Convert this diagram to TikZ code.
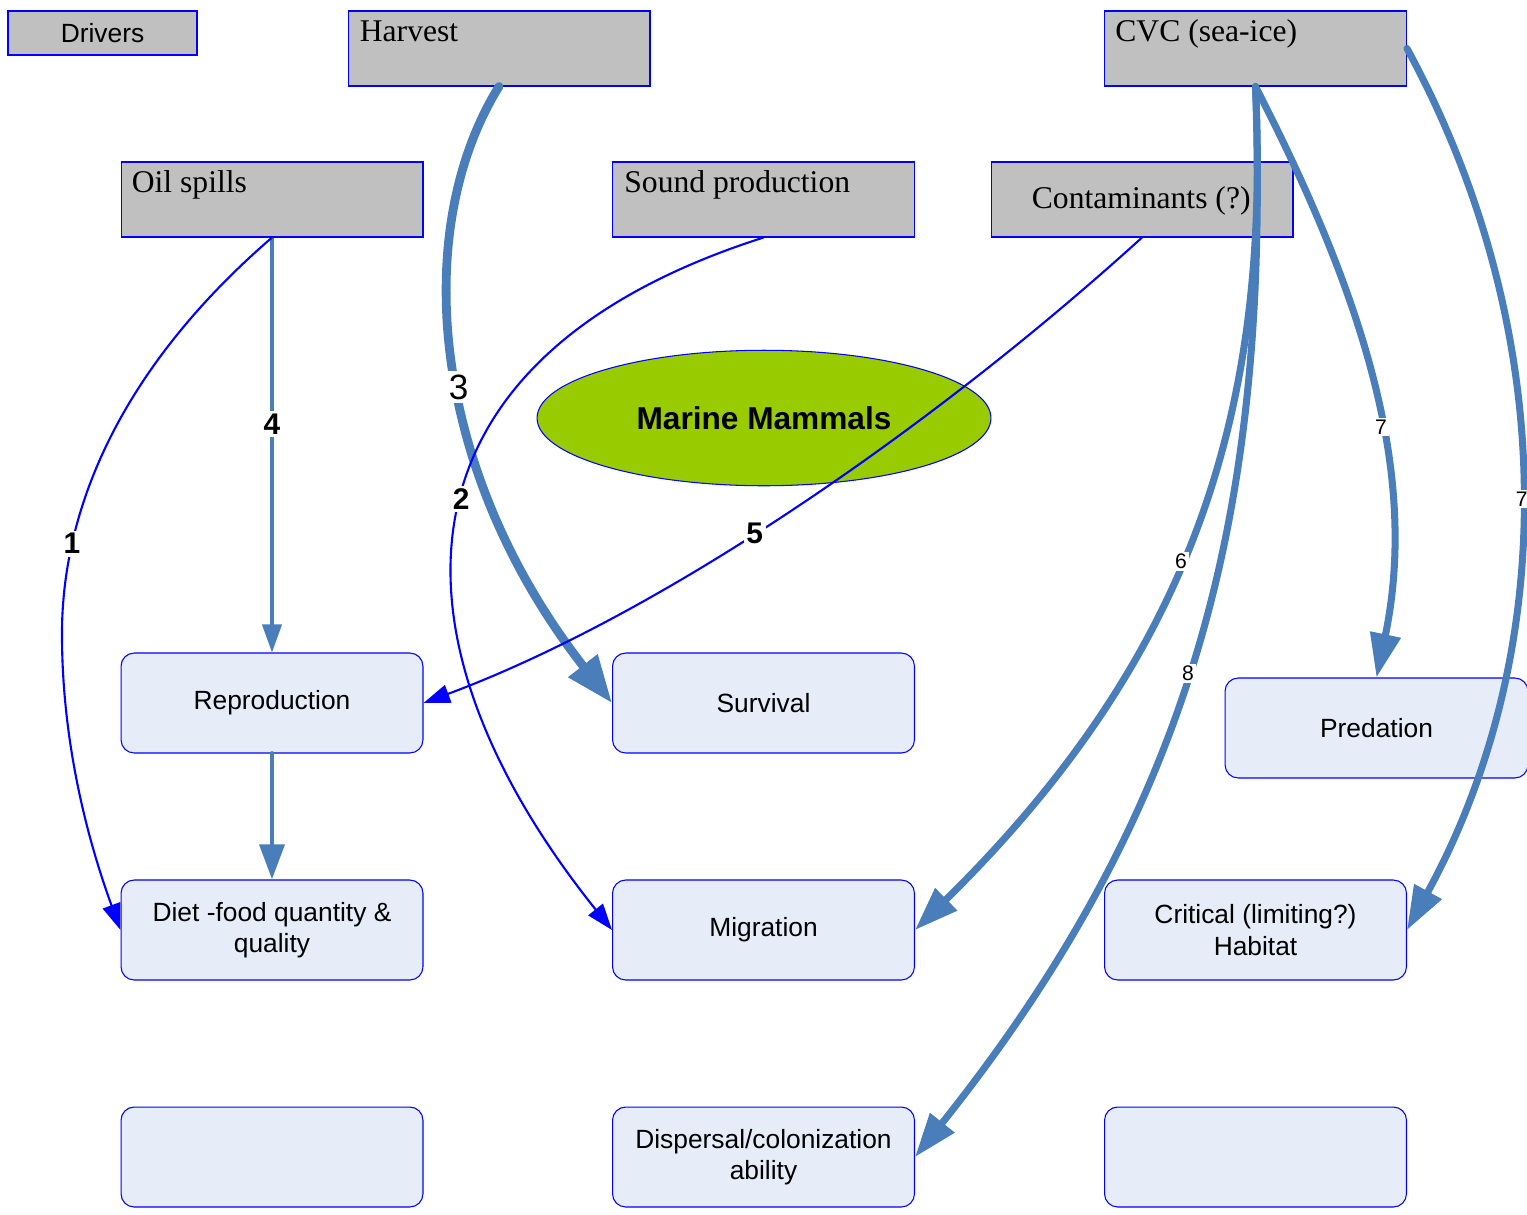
\documentclass[tikz,border=0pt]{standalone}
\usepackage{fontspec}
\setmainfont{Liberation Serif}
\newfontfamily\arialfont{Liberation Sans}
\usetikzlibrary{arrows.meta,shapes.geometric}
\definecolor{steel}{HTML}{4A7EBB}
\definecolor{driverfill}{HTML}{C0C0C0}
\definecolor{effectfill}{HTML}{E6ECF8}
\definecolor{mammalfill}{HTML}{99CC00}

\begin{document}
\begin{tikzpicture}[x=0.02cm,y=-0.02cm,
  driverbox/.style={draw=blue, line width=0.6pt, fill=driverfill,
    minimum width=6.04cm, minimum height=1.5cm, inner sep=0pt},
  drivertext/.style={font=\fontsize{18}{21}\selectfont, anchor=base west, inner sep=0pt},
  effectbox/.style={draw=blue, line width=0.6pt, fill=effectfill, rounded corners=7.5pt,
    minimum width=6.04cm, minimum height=2cm, align=center, inner sep=0pt,
    font=\arialfont\fontsize{15}{18}\selectfont},
  thinlink/.style={draw=blue, line width=1.2pt, -{Triangle[length=15pt,width=10.5pt]}},
  thicklink/.style={draw=steel, line width=4pt, line cap=round, -{Triangle[length=25pt,width=17pt]}},
  harvestlink/.style={draw=steel, line width=5pt, line cap=round, -{Triangle[length=27pt,width=20pt]}},
  oillink/.style={draw=steel, line width=1.8pt, -{Triangle[length=16pt,width=11pt]}},
  reprolink/.style={draw=steel, line width=2.8pt, line cap=round, -{Triangle[length=20pt,width=14pt]}},
  boldnum/.style={fill=white, inner sep=1.5pt, font=\arialfont\bfseries\fontsize{17}{17}\selectfont},
  largenum/.style={fill=white, inner sep=2pt, font=\arialfont\fontsize{20}{20}\selectfont},
  smallnum/.style={fill=white, inner sep=1pt, font=\arialfont\fontsize{12}{12}\selectfont}]

\useasboundingbox (0,0) rectangle (1527,1214);

% drivers (grey boxes)
\node[driverbox, minimum width=3.78cm, minimum height=0.88cm,
      font=\arialfont\fontsize{15}{18}\selectfont] (drivers) at (102.5,33) {Drivers};
\node[driverbox] (harvest) at (499,48.5) {};
\node[drivertext] (harvest-t) at ([shift={(12,31)}]harvest.north west) {Harvest};
\node[driverbox] (cvc) at (1255.5,48.5) {};
\node[drivertext] (cvc-t) at ([shift={(11,31)}]cvc.north west) {CVC (sea-ice)};
\node[driverbox] (oil) at (272,199.5) {};
\node[drivertext] (oil-t) at ([shift={(11,31)}]oil.north west) {Oil spills};
\node[driverbox] (sound) at (763.5,199.5) {};
\node[drivertext] (sound-t) at ([shift={(12,31)}]sound.north west) {Sound production};
\node[driverbox] (cont) at (1142,199.5) {};
\node[drivertext] (cont-t) at ([shift={(41,47)}]cont.north west) {Contaminants (?)};

% focal group
\node[ellipse, draw=blue, line width=0.6pt, fill=mammalfill, inner sep=0pt,
      minimum width=9.08cm, minimum height=2.71cm,
      font=\arialfont\bfseries\fontsize{18}{21}\selectfont] (mm) at (764,418) {Marine Mammals};

% effects (rounded boxes)
\node[effectbox] (repro) at (272,703) {Reproduction};
\node[effectbox] (surv) at (763.5,703) {Survival};
\node[effectbox, minimum width=6.06cm] (pred) at (1376.5,728) {Predation};
\node[effectbox] (diet) at (272,930) {Diet -food quantity \&\\quality};
\node[effectbox] (migr) at (763.5,930) {Migration};
\node[effectbox] (crit) at (1255.5,930) {Critical (limiting?)\\Habitat};
\node[effectbox] (blankA) at (272,1157) {};
\node[effectbox] (disp) at (763.5,1157) {Dispersal/colonization\\ability};
\node[effectbox] (blankB) at (1255.5,1157) {};

% heavy links
\draw[harvestlink] (harvest.south) .. controls (410,230) and (430,470) .. (surv.west)
  node[largenum, pos=0.54] (n3) {3};
\draw[thicklink] (cvc.south) .. controls (1270,400) and (1200,650) .. (migr.east)
  node[smallnum, pos=0.55] (n6) {6};
\draw[thicklink] (cvc.south) .. controls (1270,500) and (1200,800) .. (disp.east)
  node[smallnum, pos=0.53] (n8) {8};
\draw[thicklink] (cvc.south) .. controls (1360,290) and (1420,470) .. (pred.north)
  node[smallnum, pos=0.58] (n7a) {7};
\draw[thicklink] (cvc.east) .. controls (1560,330) and (1560,650) .. (crit.east)
  node[smallnum, pos=0.51] (n7b) {7};
\draw[oillink] (oil.south) -- (repro.north) node[boldnum, pos=0.45] (n4) {4};
\draw[reprolink] (repro.south) -- (diet.north);

% thin links
\coordinate (bend1) at (62,640);
\draw[thinlink] (oil.south) .. controls (130,360) and (60,500) .. (bend1)
  node[boldnum, pos=0.77] (n1) {1}
  .. controls (63,760) and (95,860) .. (diet.west);
\draw[thinlink] (sound.south) .. controls (380,360) and (380,640) .. (migr.west)
  node[boldnum, pos=0.47] (n2) {2};
\draw[thinlink] (cont.south) .. controls (930,430) and (660,615) .. (repro.east)
  node[boldnum, pos=0.55] (n5) {5};

\end{tikzpicture}
\end{document}
